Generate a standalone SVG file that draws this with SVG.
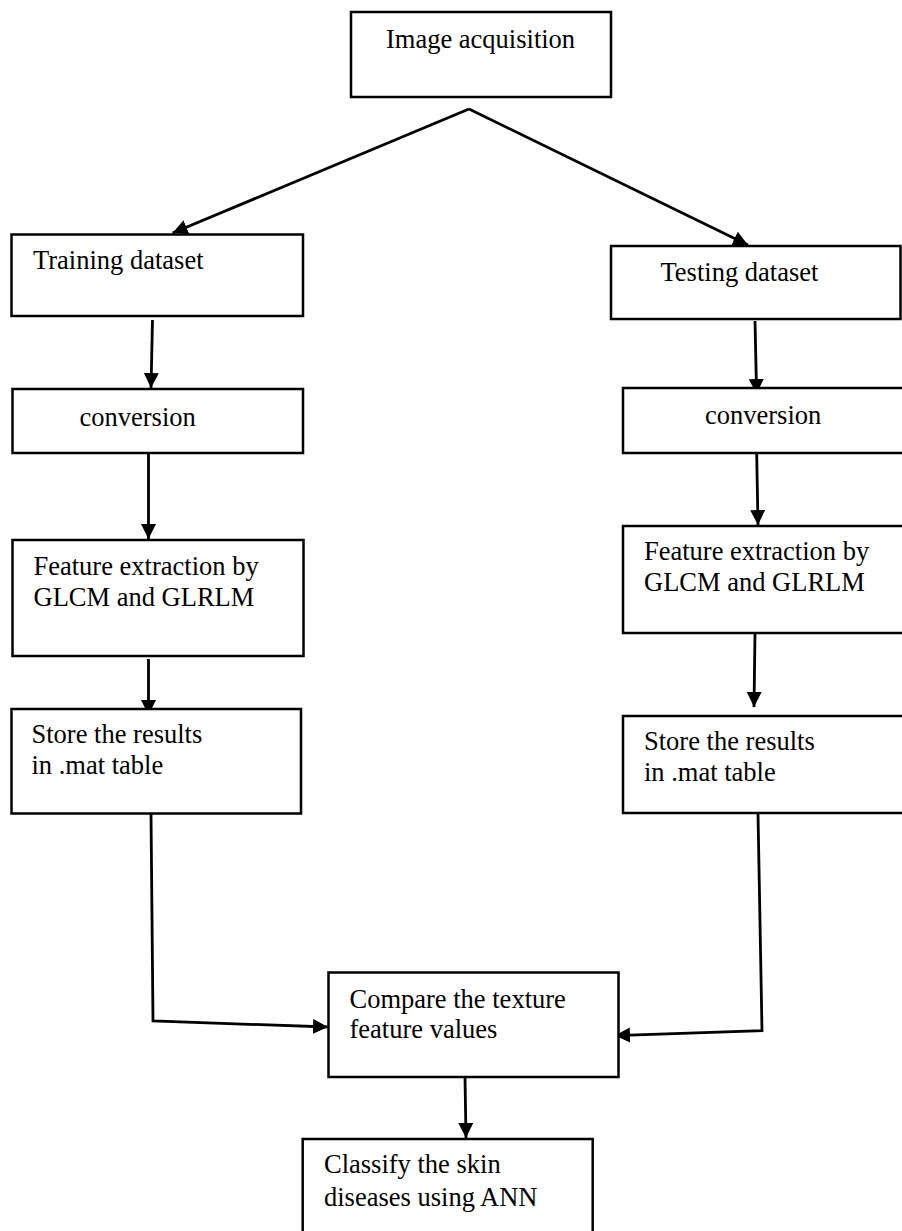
<svg xmlns="http://www.w3.org/2000/svg" width="902" height="1231" viewBox="0 0 902 1231">
<style>
.box{fill:#fff;stroke:#000;stroke-width:2.5}
.lbl{font-family:"Liberation Serif","Times New Roman",serif;font-size:26.5px;fill:#000}
.con{fill:none;stroke:#000;stroke-width:2.8}
</style>
<defs>
<marker id="ah" markerUnits="userSpaceOnUse" markerWidth="16" markerHeight="16" refX="15" refY="7.5" orient="auto">
<path d="M0,0 L15,7.5 L0,15 z" fill="#000"/>
</marker>
</defs>
<rect width="902" height="1231" fill="#fff"/>
<g id="connectors">
<line class="con" x1="469" y1="109" x2="172.6" y2="233" marker-end="url(#ah)"/>
<line class="con" x1="469" y1="109" x2="748" y2="245" marker-end="url(#ah)"/>
<line class="con" x1="152.5" y1="320" x2="151" y2="388" marker-end="url(#ah)"/>
<line class="con" x1="755" y1="321" x2="756.6" y2="394" marker-end="url(#ah)"/>
<line class="con" x1="148.5" y1="449" x2="148.5" y2="539" marker-end="url(#ah)"/>
<line class="con" x1="756.6" y1="449" x2="758" y2="525" marker-end="url(#ah)"/>
<line class="con" x1="148.5" y1="659" x2="148.5" y2="715" marker-end="url(#ah)"/>
<line class="con" x1="755" y1="633" x2="754" y2="707" marker-end="url(#ah)"/>
<polyline class="con" points="151,813.5 153,1021 328,1027" marker-end="url(#ah)"/>
<polyline class="con" points="758,813.5 762,1030.7 615,1035.6" marker-end="url(#ah)"/>
<line class="con" x1="465" y1="1077" x2="466" y2="1138" marker-end="url(#ah)"/>
</g>
<g id="n-acq">
<rect class="box" x="351" y="12" width="260" height="85"/>
<text class="lbl" x="386" y="48">Image acquisition</text>
</g>
<g id="n-train">
<rect class="box" x="11.5" y="234.5" width="291.5" height="81.5"/>
<text class="lbl" x="33" y="269">Training dataset</text>
</g>
<g id="n-test">
<rect class="box" x="611" y="246" width="289.5" height="73"/>
<text class="lbl" x="660.5" y="281">Testing dataset</text>
</g>
<g id="n-conv-l">
<rect class="box" x="12.5" y="389" width="290.5" height="64"/>
<text class="lbl" x="79.5" y="426">conversion</text>
</g>
<g id="n-conv-r">
<rect class="box" x="623" y="388" width="290" height="65"/>
<text class="lbl" x="705" y="424">conversion</text>
</g>
<g id="n-feat-l">
<rect class="box" x="12.5" y="540" width="291" height="116"/>
<text class="lbl" x="33.5" y="575">Feature extraction by</text>
<text class="lbl" x="33.5" y="606">GLCM and GLRLM</text>
</g>
<g id="n-feat-r">
<rect class="box" x="623" y="526" width="290" height="107"/>
<text class="lbl" x="644" y="560">Feature extraction by</text>
<text class="lbl" x="644" y="591">GLCM and GLRLM</text>
</g>
<g id="n-store-l">
<rect class="box" x="11.5" y="709" width="289.5" height="104.5"/>
<text class="lbl" x="31.5" y="743">Store the results</text>
<text class="lbl" x="31.5" y="774">in .mat table</text>
</g>
<g id="n-store-r">
<rect class="box" x="623" y="716" width="290" height="97"/>
<text class="lbl" x="644" y="750">Store the results</text>
<text class="lbl" x="644" y="781">in .mat table</text>
</g>
<g id="n-compare">
<rect class="box" x="328.5" y="972.5" width="290" height="104.5"/>
<text class="lbl" x="349.5" y="1007.5">Compare the texture</text>
<text class="lbl" x="349.5" y="1037.5">feature values</text>
</g>
<g id="n-classify">
<rect class="box" x="302.7" y="1139" width="290" height="110"/>
<text class="lbl" x="324" y="1173">Classify the skin</text>
<text class="lbl" x="324" y="1206">diseases using ANN</text>
</g>
</svg>
